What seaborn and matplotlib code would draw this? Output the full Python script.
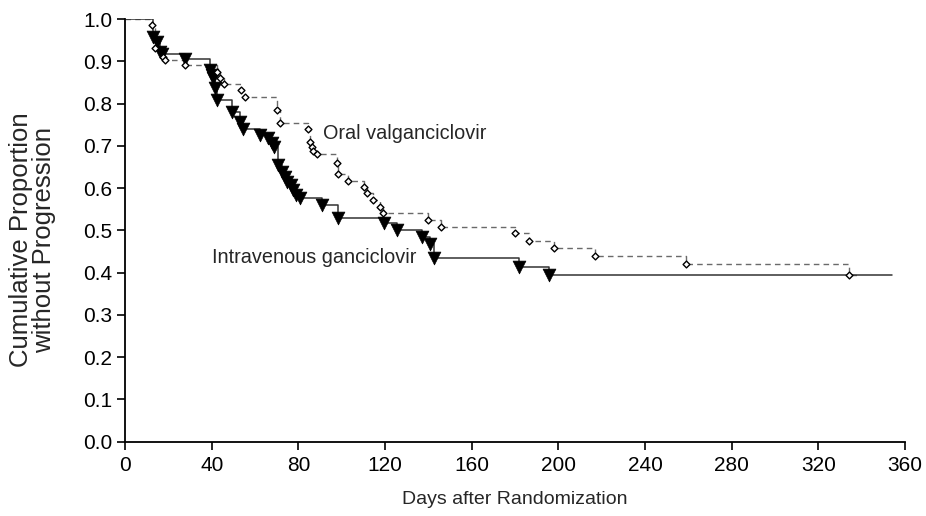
import matplotlib
matplotlib.use("Agg")
import matplotlib.pyplot as plt
import seaborn as sns

# ---- data ----
iv_days = [13.1, 14.6, 16.2, 16.9, 27.7, 39.2, 40.2, 40.8, 41.5, 42.3, 49.2, 53.0,
           54.3, 62.3, 66.2, 67.7, 68.8, 70.8, 72.3, 73.8, 74.9, 76.5, 77.7, 78.8,
           80.8, 90.8, 98.5, 119.7, 125.3, 136.9, 140.8, 142.6, 181.8, 195.8]
iv_surv = [0.958, 0.946, 0.923, 0.917, 0.905, 0.879, 0.868, 0.860, 0.836, 0.808,
           0.781, 0.757, 0.741, 0.726, 0.718, 0.706, 0.698, 0.655, 0.639, 0.627,
           0.615, 0.607, 0.595, 0.584, 0.576, 0.561, 0.529, 0.517, 0.501, 0.484,
           0.468, 0.434, 0.413, 0.395]
iv_end = 354

oral_days = [12.5, 13.8, 17.7, 18.5, 27.7, 42.3, 43.8, 45.7, 53.4, 55.4, 70.0, 71.5,
             84.6, 85.4, 86.2, 86.9, 88.5, 97.7, 98.5, 103.0, 110.5, 111.5, 114.6,
             117.7, 118.9, 140.0, 146.0, 180.0, 186.6, 198.0, 217.0, 259.0, 334.0]
oral_surv = [0.986, 0.931, 0.911, 0.903, 0.891, 0.875, 0.860, 0.846, 0.832, 0.816,
             0.785, 0.755, 0.739, 0.710, 0.698, 0.688, 0.680, 0.660, 0.633, 0.617,
             0.602, 0.588, 0.572, 0.556, 0.540, 0.5245, 0.509, 0.493, 0.4755, 0.4575,
             0.440, 0.420, 0.394]
oral_end = 338

label_oral = "Oral valganciclovir"
label_iv = "Intravenous ganciclovir"
x_ticks = [0, 40, 80, 120, 160, 200, 240, 280, 320, 360]
y_ticks = [0.0, 0.1, 0.2, 0.3, 0.4, 0.5, 0.6, 0.7, 0.8, 0.9, 1.0]

sns.set_style("ticks")
plt.rcParams['font.family'] = ['Liberation Sans', 'DejaVu Sans']

fig = plt.figure(figsize=(9.26, 5.16), dpi=100)
ax = fig.add_axes([0.135, 0.144, 0.8425, 0.819])


def step_arrays(days, surv, end):
    x = [0.0] + list(days) + [end]
    y = [1.0] + list(surv) + [surv[-1]]
    return x, y


ox, oy = step_arrays(oral_days, oral_surv, oral_end)
ix, iy = step_arrays(iv_days, iv_surv, iv_end)

sns.lineplot(x=ox, y=oy, ax=ax, drawstyle='steps-post', estimator=None, sort=False,
             color='#6a6a6a', linewidth=1.0, linestyle=(0, (4, 3)))
sns.lineplot(x=ix, y=iy, ax=ax, drawstyle='steps-post', estimator=None, sort=False,
             color='#333333', linewidth=1.1)

sns.scatterplot(x=iv_days, y=iv_surv, ax=ax, marker='v', s=85, color='black',
                edgecolor='black', linewidth=0.5, zorder=4)
sns.scatterplot(x=oral_days, y=oral_surv, ax=ax, marker='D', s=12, color='white',
                edgecolor='black', linewidth=1.0, zorder=5)

ax.text(91.5, 0.73, label_oral, fontsize=14.3, va='center', ha='left')
ax.text(40.2, 0.437, label_iv, fontsize=14.3, va='center', ha='left')

ax.set_xlim(0, 360)
ax.set_ylim(0, 1.0)
ax.set_xticks(x_ticks)
ax.set_yticks(y_ticks)
ax.set_xticklabels([str(t) for t in x_ticks], fontsize=15)
ax.set_yticklabels([f"{t:.1f}" for t in y_ticks], fontsize=15)
ax.tick_params(axis='y', direction='out', length=6, width=1.2, color='black',
               labelcolor='black', pad=3)
ax.tick_params(axis='x', direction='out', length=6, width=1.2, color='black',
               labelcolor='black', pad=4)

for side in ['top', 'right']:
    ax.spines[side].set_visible(False)
for side in ['left', 'bottom']:
    ax.spines[side].set_linewidth(1.3)
    ax.spines[side].set_color('black')

ax.set_xlabel("Days after Randomization", fontsize=14, labelpad=12)
ax.set_ylabel("Cumulative Proportion\nwithout Progression", fontsize=18.5,
              linespacing=0.95)
ax.yaxis.set_label_coords(-0.088, 0.477)

fig.savefig("out.png", dpi=100)
